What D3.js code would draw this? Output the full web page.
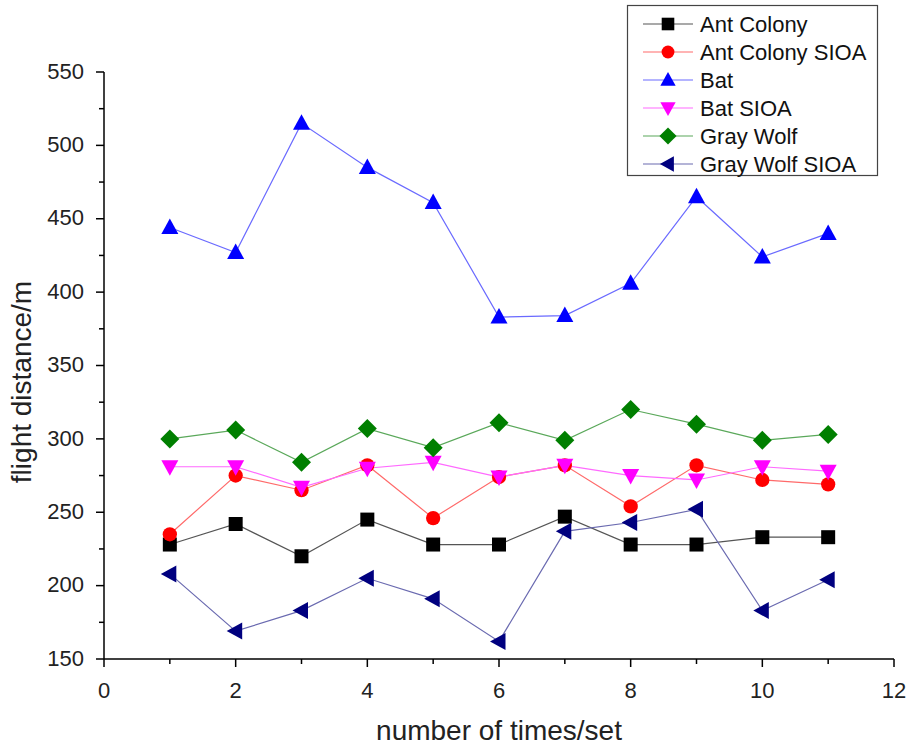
<!DOCTYPE html>
<html>
<head>
<meta charset="utf-8">
<script src="https://cdn.jsdelivr.net/npm/d3@7"></script>
<style>
  html, body { margin: 0; padding: 0; background: #fff; }
  svg { display: block; }
</style>
</head>
<body>
<svg id="chart" width="910" height="747"></svg>
<script>
// Flight distance per run for each algorithm
const runs = [1, 2, 3, 4, 5, 6, 7, 8, 9, 10, 11];
const antColony      = [228, 242, 220, 245, 228, 228, 247, 228, 228, 233, 233];
const antColonySIOA  = [235, 275, 265, 282, 246, 274, 282, 254, 282, 272, 269];
const bat            = [444, 427, 515, 485, 461, 383, 384, 406, 465, 424, 440];
const batSIOA        = [281, 281, 267, 280, 284, 274, 282, 275, 272, 281, 278];
const grayWolf       = [300, 306, 284, 307, 294, 311, 299, 320, 310, 299, 303];
const grayWolfSIOA   = [208, 169, 183, 205, 191, 162, 237, 243, 252, 183, 204];

const seriesNames = ["Ant Colony", "Ant Colony SIOA", "Bat", "Bat SIOA", "Gray Wolf", "Gray Wolf SIOA"];
const xTicks = [0, 2, 4, 6, 8, 10, 12];
const yTicks = [150, 200, 250, 300, 350, 400, 450, 500, 550];

const series = [
  { name: seriesNames[0], values: antColony,     marker: "square",   fill: "#000000", line: "#555555" },
  { name: seriesNames[1], values: antColonySIOA, marker: "circle",   fill: "#ff0000", line: "#ff6a6a" },
  { name: seriesNames[2], values: bat,           marker: "up",       fill: "#0000ff", line: "#6a6aff" },
  { name: seriesNames[3], values: batSIOA,       marker: "down",     fill: "#ff00ff", line: "#ff6aff" },
  { name: seriesNames[4], values: grayWolf,      marker: "diamond",  fill: "#007f00", line: "#5aa85a" },
  { name: seriesNames[5], values: grayWolfSIOA,  marker: "left",     fill: "#00007f", line: "#6a6ab0" }
];

const svg = d3.select("#chart");
const plotLeft = 104, plotRight = 894, plotTop = 72, plotBottom = 659;

const x = d3.scaleLinear().domain([0, 12]).range([plotLeft, plotRight]);
const y = d3.scaleLinear().domain([150, 550]).range([plotBottom, plotTop]);

const font = "'Liberation Sans', Arial, sans-serif";

// Marker shapes
function markerPath(type) {
  switch (type) {
    case "square":  return "M-7,-7H7V7H-7Z";
    case "circle":  return d3.symbol().type(d3.symbolCircle).size(160)();
    case "up":      return "M0,-9L8.5,6.5H-8.5Z";
    case "down":    return "M0,9L8.5,-6.5H-8.5Z";
    case "diamond": return "M0,-9.5L9.5,0L0,9.5L-9.5,0Z";
    case "left":    return "M-9,0L6.5,-8.5V8.5Z";
  }
}

// X axis with major and minor ticks
const gx = svg.append("g").attr("transform", `translate(0,${plotBottom})`);
gx.append("line").attr("x1", plotLeft).attr("x2", plotRight).attr("stroke", "#000").attr("stroke-width", 1.5);
d3.range(0, 13, 1).forEach(v => {
  const major = v % 2 === 0;
  gx.append("line").attr("x1", x(v)).attr("x2", x(v)).attr("y1", 0).attr("y2", major ? 8 : 5)
    .attr("stroke", "#000").attr("stroke-width", 1.5);
});
xTicks.forEach(v => {
  gx.append("text").attr("x", x(v)).attr("y", 39).attr("text-anchor", "middle")
    .attr("font-family", font).attr("font-size", 22).attr("fill", "#222").text(v);
});

// Y axis with major and minor ticks
const gy = svg.append("g").attr("transform", `translate(${plotLeft},0)`);
gy.append("line").attr("y1", plotTop).attr("y2", plotBottom).attr("stroke", "#000").attr("stroke-width", 1.5);
d3.range(150, 551, 25).forEach(v => {
  const major = v % 50 === 0;
  gy.append("line").attr("x1", 0).attr("x2", major ? -8 : -5).attr("y1", y(v)).attr("y2", y(v))
    .attr("stroke", "#000").attr("stroke-width", 1.5);
});
yTicks.forEach(v => {
  gy.append("text").attr("x", -20).attr("y", y(v) - 1).attr("dy", "0.35em").attr("text-anchor", "end")
    .attr("font-family", font).attr("font-size", 22).attr("fill", "#222").text(v);
});

// Axis titles
svg.append("text").attr("x", 499).attr("y", 740).attr("text-anchor", "middle")
  .attr("font-family", font).attr("font-size", 28).attr("fill", "#222")
  .text("number of times/set");
svg.append("text").attr("transform", `translate(31,382) rotate(-90)`)
  .attr("text-anchor", "middle")
  .attr("font-family", font).attr("font-size", 28).attr("fill", "#222")
  .text("flight distance/m");

// Lines and markers
const line = d3.line().x((d, i) => x(runs[i])).y(d => y(d));
series.forEach(s => {
  svg.append("path").datum(s.values).attr("d", line).attr("fill", "none")
    .attr("stroke", s.line).attr("stroke-width", 1.2);
});
series.forEach(s => {
  svg.append("g").selectAll("path").data(s.values).join("path")
    .attr("d", markerPath(s.marker))
    .attr("transform", (d, i) => `translate(${x(runs[i])},${y(d)})`)
    .attr("fill", s.fill);
});

// Legend
const lg = svg.append("g");
lg.append("rect").attr("x", 627.5).attr("y", 5.5).attr("width", 250).attr("height", 170)
  .attr("fill", "#fff").attr("stroke", "#444").attr("stroke-width", 1.2);
series.forEach((s, i) => {
  const ly = 24 + i * 28;
  lg.append("line").attr("x1", 643).attr("x2", 693).attr("y1", ly).attr("y2", ly)
    .attr("stroke", s.line).attr("stroke-width", 1.2);
  lg.append("path").attr("d", markerPath(s.marker))
    .attr("transform", `translate(668,${ly}) scale(0.9)`).attr("fill", s.fill);
  lg.append("text").attr("x", 700).attr("y", ly).attr("dy", "0.35em")
    .attr("font-family", font).attr("font-size", 22).attr("fill", "#111")
    .text(s.name);
});
</script>
</body>
</html>
